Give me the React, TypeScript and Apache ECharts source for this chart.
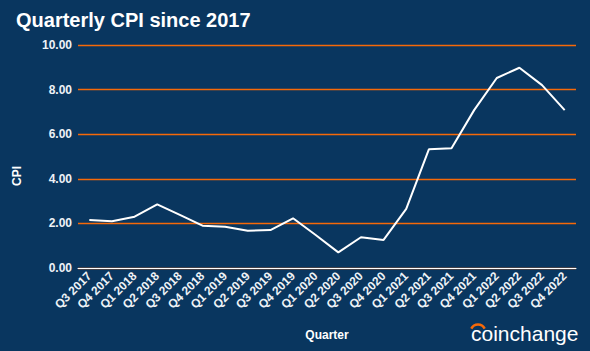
import React, { useEffect, useRef } from "react";
import * as echarts from "echarts";

const quarters = [
  "Q3 2017", "Q4 2017", "Q1 2018", "Q2 2018", "Q3 2018", "Q4 2018",
  "Q1 2019", "Q2 2019", "Q3 2019", "Q4 2019", "Q1 2020", "Q2 2020",
  "Q3 2020", "Q4 2020", "Q1 2021", "Q2 2021", "Q3 2021", "Q4 2021",
  "Q1 2022", "Q2 2022", "Q3 2022", "Q4 2022",
];
const cpiValues = [
  2.15, 2.1, 2.3, 2.85, 2.38, 1.9,
  1.85, 1.67, 1.7, 2.23, 1.48, 0.7,
  1.38, 1.26, 2.65, 5.32, 5.37, 7.08,
  8.52, 8.98, 8.2, 7.08,
];

const BG = "#09365f";
const ORANGE = "#f66908";
const FONT = "'Liberation Sans', Arial, sans-serif";

export default function App() {
  const ref = useRef<HTMLDivElement>(null);
  useEffect(() => {
    if (!ref.current) return;
    const chart = echarts.init(ref.current, null, { renderer: "svg" });
    chart.setOption({
      animation: false,
      backgroundColor: BG,
      textStyle: { fontFamily: FONT },
      title: {
        text: "Quarterly CPI since 2017",
        left: 11,
        top: 5,
        textStyle: { color: "#ffffff", fontSize: 20, fontWeight: "bold", fontFamily: FONT },
      },
      grid: { left: 78, right: 14, top: 45, bottom: 83 },
      xAxis: {
        type: "category",
        data: quarters,
        boundaryGap: true,
        name: "Quarter",
        nameLocation: "middle",
        nameGap: 61,
        nameTextStyle: { color: "#ffffff", fontSize: 12, fontWeight: "bold", fontFamily: FONT },
        axisLine: { show: true, lineStyle: { color: "#ffffff", width: 1 } },
        axisTick: { show: false },
        axisLabel: { rotate: 45, color: "#eef2f6", fontSize: 12, fontWeight: "bold", margin: 6, interval: 0, fontFamily: FONT },
        splitLine: { show: false },
      },
      yAxis: {
        type: "value",
        min: 0,
        max: 10,
        interval: 2,
        axisLine: { show: false },
        axisTick: { show: false },
        axisLabel: {
          color: "#eef2f6",
          fontSize: 12,
          fontWeight: "bold",
          margin: 6,
          fontFamily: FONT,
          formatter: (v: number) => v.toFixed(2),
        },
        splitLine: {
          show: true,
          lineStyle: { color: ORANGE, width: 1.4 },
        },
      },
      series: [
        {
          type: "line",
          data: cpiValues,
          symbol: "none",
          lineStyle: { color: "#ffffff", width: 2 },
          z: 5,
        },
      ],
      graphic: [
        {
          type: "text",
          x: 17,
          y: 176,
          rotation: Math.PI / 2,
          style: {
            text: "CPI",
            fill: "#ffffff",
            fontSize: 12,
            fontWeight: "bold",
            fontFamily: FONT,
            align: "center",
            verticalAlign: "middle",
          },
        },
        {
          type: "arc",
          shape: { cx: 478, cy: 332, r: 7.5, startAngle: -Math.PI * 0.85, endAngle: -Math.PI * 0.15, clockwise: true },
          style: { stroke: ORANGE, lineWidth: 2.5, fill: "none" },
        },
        {
          type: "text",
          left: 471,
          top: 323,
          style: {
            text: "coinchange",
            fill: "#ffffff",
            fontSize: 21,
            fontFamily: FONT,
          },
        },
      ],
    });
    return () => chart.dispose();
  }, []);
  return (
    <div
      ref={ref}
      style={{ position: "absolute", left: 0, top: 0, width: 590, height: 351 }}
    />
  );
}
